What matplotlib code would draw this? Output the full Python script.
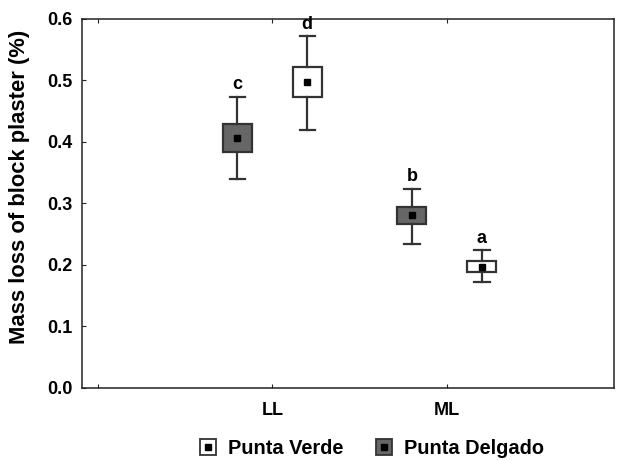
import matplotlib.pyplot as plt
from matplotlib.lines import Line2D
from matplotlib.legend_handler import HandlerTuple

plt.rcParams['font.family'] = ['Liberation Sans', 'DejaVu Sans']
plt.rcParams['font.weight'] = 'bold'

sites = ['LL', 'ML']
series = ['Punta Delgado', 'Punta Verde']
colors = {'Punta Delgado': '#666666', 'Punta Verde': 'white'}

# mean, box low/high, whisker low/high
mean = {'Punta Delgado': [0.406, 0.281], 'Punta Verde': [0.497, 0.197]}
box_lo = {'Punta Delgado': [0.384, 0.266], 'Punta Verde': [0.473, 0.189]}
box_hi = {'Punta Delgado': [0.429, 0.295], 'Punta Verde': [0.522, 0.207]}
whis_lo = {'Punta Delgado': [0.340, 0.234], 'Punta Verde': [0.420, 0.173]}
whis_hi = {'Punta Delgado': [0.473, 0.324], 'Punta Verde': [0.572, 0.224]}
letters = {'Punta Delgado': ['c', 'b'], 'Punta Verde': ['d', 'a']}

offsets = {'Punta Delgado': -0.2, 'Punta Verde': 0.2}

fig = plt.figure(figsize=(6.18, 4.61), dpi=100)
ax = fig.add_axes([0.1327, 0.1584, 0.8608, 0.8004])

for s in series:
    stats = []
    pos = []
    for i in range(len(sites)):
        stats.append(dict(med=mean[s][i], q1=box_lo[s][i], q3=box_hi[s][i],
                          whislo=whis_lo[s][i], whishi=whis_hi[s][i], fliers=[]))
        pos.append(i + 1 + offsets[s])
    ax.bxp(stats, positions=pos, widths=0.166, capwidths=0.088, patch_artist=True,
           showfliers=False,
           boxprops=dict(facecolor=colors[s], edgecolor='#333333', linewidth=1.6),
           whiskerprops=dict(color='#333333', linewidth=1.6),
           capprops=dict(color='#333333', linewidth=1.6),
           medianprops=dict(linewidth=0))
    ax.plot(pos, mean[s], 's', color='black', markersize=4.5, linestyle='none')
    for p, top, lab in zip(pos, whis_hi[s], letters[s]):
        ax.annotate(lab, (p, top), xytext=(0, 5.5), textcoords='offset points',
                    ha='center', va='baseline', fontsize=13, fontweight='bold')

ax.set_xlim(-0.09, 2.957)
ax.set_ylim(0, 0.6)
ax.set_xticks([0, 1, 2])
ax.set_xticklabels(['', 'LL', 'ML'])
ax.set_yticks([0, 0.1, 0.2, 0.3, 0.4, 0.5, 0.6])
ax.set_yticklabels(['0.0', '0.1', '0.2', '0.3', '0.4', '0.5', '0.6'])
ax.tick_params(direction='in', length=3, top=True, right=False, labelsize=13,
               colors='#222222', labelcolor='black')
ax.tick_params(axis='y', pad=7)
ax.tick_params(axis='x', pad=10)
for sp in ax.spines.values():
    sp.set_linewidth(1.1)
    sp.set_color('#222222')
ax.set_ylabel('Mass loss of block plaster (%)', fontsize=15.8, fontweight='bold')
ax.yaxis.set_label_coords(-0.098, 0.545)

h_verde = (Line2D([], [], marker='s', markersize=11, markerfacecolor='white',
                  markeredgecolor='#333333', markeredgewidth=1.3, linestyle='none'),
           Line2D([], [], marker='s', markersize=3.7, color='black', linestyle='none'))
h_delg = (Line2D([], [], marker='s', markersize=11, markerfacecolor='#666666',
                 markeredgecolor='#333333', markeredgewidth=1.3, linestyle='none'),
          Line2D([], [], marker='s', markersize=3.7, color='black', linestyle='none'))
fig.legend([h_verde, h_delg], ['Punta Verde', 'Punta Delgado'],
           handler_map={tuple: HandlerTuple(ndivide=1, pad=0)},
           loc='center', bbox_to_anchor=(0.602, 0.028), ncol=2, frameon=False,
           fontsize=14.4, handlelength=0.8, handletextpad=0.6, columnspacing=1.6)

fig.savefig('out.png', dpi=100)
